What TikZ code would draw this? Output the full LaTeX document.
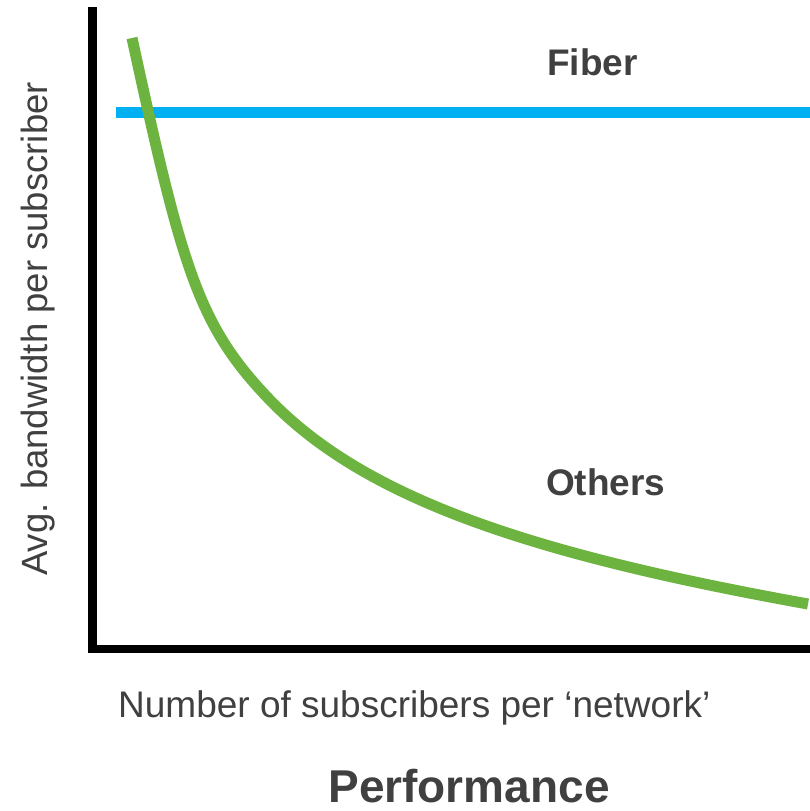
\documentclass[tikz,border=0pt]{standalone}
\usepackage{fontspec}
\setmainfont{Liberation Sans}
\definecolor{fibreblue}{RGB}{0,176,240}
\definecolor{othergreen}{RGB}{109,179,63}
\definecolor{labelgray}{RGB}{64,64,64}
\tikzset{
  axisline/.style={line width=8.5pt, black, line join=miter},
  fibreline/.style={line width=11pt, fibreblue},
  otherline/.style={line width=11pt, othergreen},
  axislabel/.style={inner sep=0pt, text=labelgray, font=\fontsize{36.5}{40}\selectfont},
  xaxislabel/.style={inner sep=0pt, text=labelgray, font=\fontsize{37}{40}\selectfont},
  serieslabel/.style={inner sep=0pt, text=labelgray, font=\fontsize{37}{40}\selectfont\bfseries},
  titlelabel/.style={inner sep=0pt, text=labelgray, font=\fontsize{46}{50}\selectfont\bfseries}
}
\begin{document}
\begin{tikzpicture}[x=1pt, y=-1pt]
\useasboundingbox (0,0) rectangle (810,811);

% axes
\coordinate (ytop) at (92.5,7);
\coordinate (origin) at (92.5,649);
\coordinate (xend) at (810,649);
\draw[axisline] (ytop) -- (origin) -- (xend);

% fibre: constant bandwidth
\coordinate (fstart) at (116,112.5);
\coordinate (fend) at (810,112.5);
\draw[fibreline] (fstart) -- (fend);

% others: bandwidth falls as subscribers are added
\coordinate (ostart) at (132,38);
\coordinate (obend) at (268,398);
\coordinate (oend) at (808,604);
\draw[otherline] (ostart) .. controls (182,268) and (198,324.5) .. (obend)
                          .. controls (363,497.75) and (528,553.6) .. (oend);

% labels
\node[serieslabel, anchor=base west] (fiber) at (547,75) {Fiber};
\node[serieslabel, anchor=base west] (others) at (546,495) {Others};
\node[axislabel, anchor=base, rotate=90] (ylab) at (47,329) {Avg. bandwidth per subscriber};
\node[xaxislabel, anchor=base west] (xlab) at (118,717) {Number of subscribers per ‘network’};
\node[titlelabel, anchor=base] (title) at (469,802) {Performance};
\end{tikzpicture}
\end{document}
